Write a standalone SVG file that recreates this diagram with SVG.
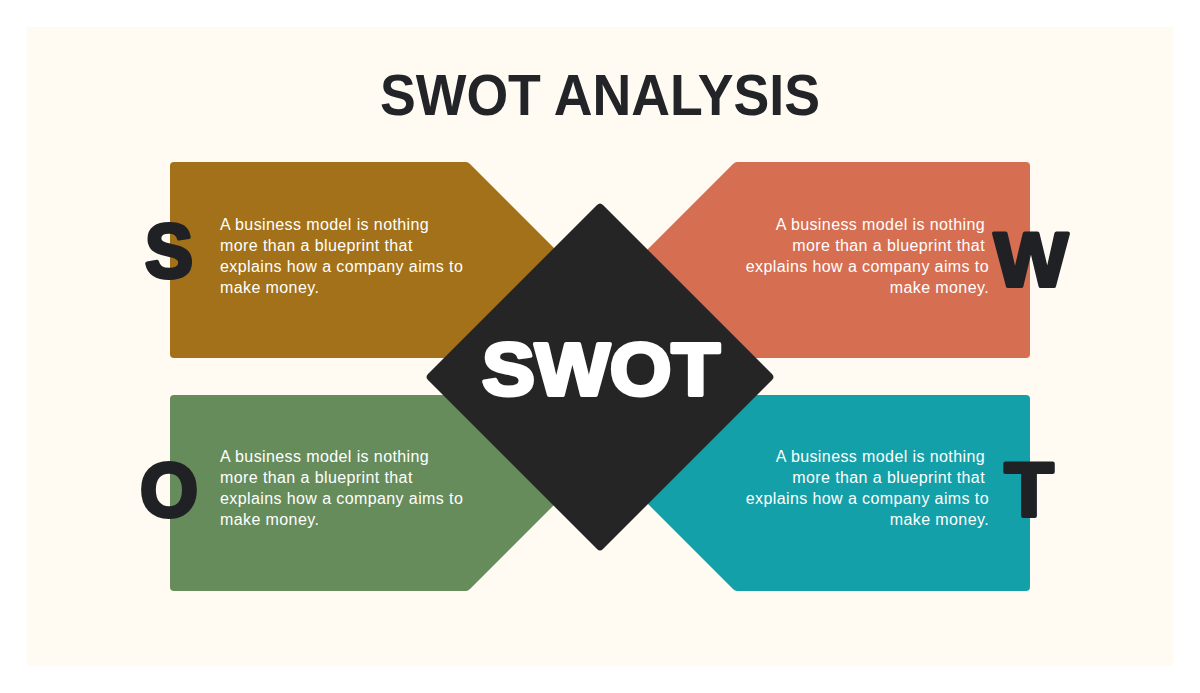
<svg xmlns="http://www.w3.org/2000/svg" width="1200" height="693" viewBox="0 0 1200 693">
<style>
.body{font-family:"Liberation Sans",Arial,sans-serif;font-size:16px;letter-spacing:0.4px;fill:#ffffff;}
.end{text-anchor:end;}
.big{font-family:"Liberation Sans",Arial,sans-serif;font-weight:bold;font-size:76px;fill:#202125;stroke:#202125;stroke-width:4;stroke-linejoin:round;text-anchor:middle;}
.title{font-family:"Liberation Sans",Arial,sans-serif;font-weight:bold;font-size:58px;fill:#222428;text-anchor:middle;}
.center{font-family:"Liberation Sans",Arial,sans-serif;font-weight:bold;font-size:75px;fill:#ffffff;stroke:#ffffff;stroke-width:4;stroke-linejoin:round;text-anchor:middle;}
</style>
<rect x="0" y="0" width="1200" height="693" fill="#ffffff"/>
<rect x="27" y="27" width="1146" height="639" fill="#FFFBF3"/>
<g id="title">
<text class="title" x="600" y="115" textLength="440" lengthAdjust="spacingAndGlyphs">SWOT ANALYSIS</text>
</g>
<g id="strengths">
<path d="M174,162 H466 Q468,162 470,164 L566,260 L470,356 Q468,358 466,358 H174 Q170,358 170,354 V166 Q170,162 174,162 Z" fill="#A27119"/>
<text class="body" x="220" y="230">A business model is nothing</text>
<text class="body" x="220" y="251">more than a blueprint that</text>
<text class="body" x="220" y="272">explains how a company aims to</text>
<text class="body" x="220" y="293">make money.</text>
<text class="big" x="169" y="277" textLength="48" lengthAdjust="spacingAndGlyphs">S</text>
</g>
<g id="weaknesses">
<path d="M1026,162 H737 Q735,162 733,164 L637,260 L733,356 Q735,358 737,358 H1026 Q1030,358 1030,354 V166 Q1030,162 1026,162 Z" fill="#D66E52"/>
<text class="body end" x="985" y="230">A business model is nothing</text>
<text class="body end" x="985" y="251">more than a blueprint that</text>
<text class="body end" x="989" y="272">explains how a company aims to</text>
<text class="body end" x="989" y="293">make money.</text>
<text class="big" x="1031" y="286" textLength="74" lengthAdjust="spacingAndGlyphs">W</text>
</g>
<g id="opportunities">
<path d="M174,395 H466 Q468,395 470,397 L566,493 L470,589 Q468,591 466,591 H174 Q170,591 170,587 V399 Q170,395 174,395 Z" fill="#668C5C"/>
<text class="body" x="220" y="462">A business model is nothing</text>
<text class="body" x="220" y="483">more than a blueprint that</text>
<text class="body" x="220" y="504">explains how a company aims to</text>
<text class="body" x="220" y="525">make money.</text>
<text class="big" x="169" y="516" textLength="58" lengthAdjust="spacingAndGlyphs">O</text>
</g>
<g id="threats">
<path d="M1026,395 H737 Q735,395 733,397 L637,493 L733,589 Q735,591 737,591 H1026 Q1030,591 1030,587 V399 Q1030,395 1026,395 Z" fill="#13A0A8"/>
<text class="body end" x="985" y="462">A business model is nothing</text>
<text class="body end" x="985" y="483">more than a blueprint that</text>
<text class="body end" x="989" y="504">explains how a company aims to</text>
<text class="body end" x="989" y="525">make money.</text>
<text class="big" x="1029" y="516" textLength="49" lengthAdjust="spacingAndGlyphs">T</text>
</g>
<g id="swot-center">
<path d="M597,205 Q600,202 603,205 L772,374 Q775,377 772,380 L603,549 Q600,552 597,549 L428,380 Q425,377 428,374 Z" fill="#252525"/>
<text class="center" x="601" y="395" textLength="238" lengthAdjust="spacingAndGlyphs">SWOT</text>
</g>
</svg>
